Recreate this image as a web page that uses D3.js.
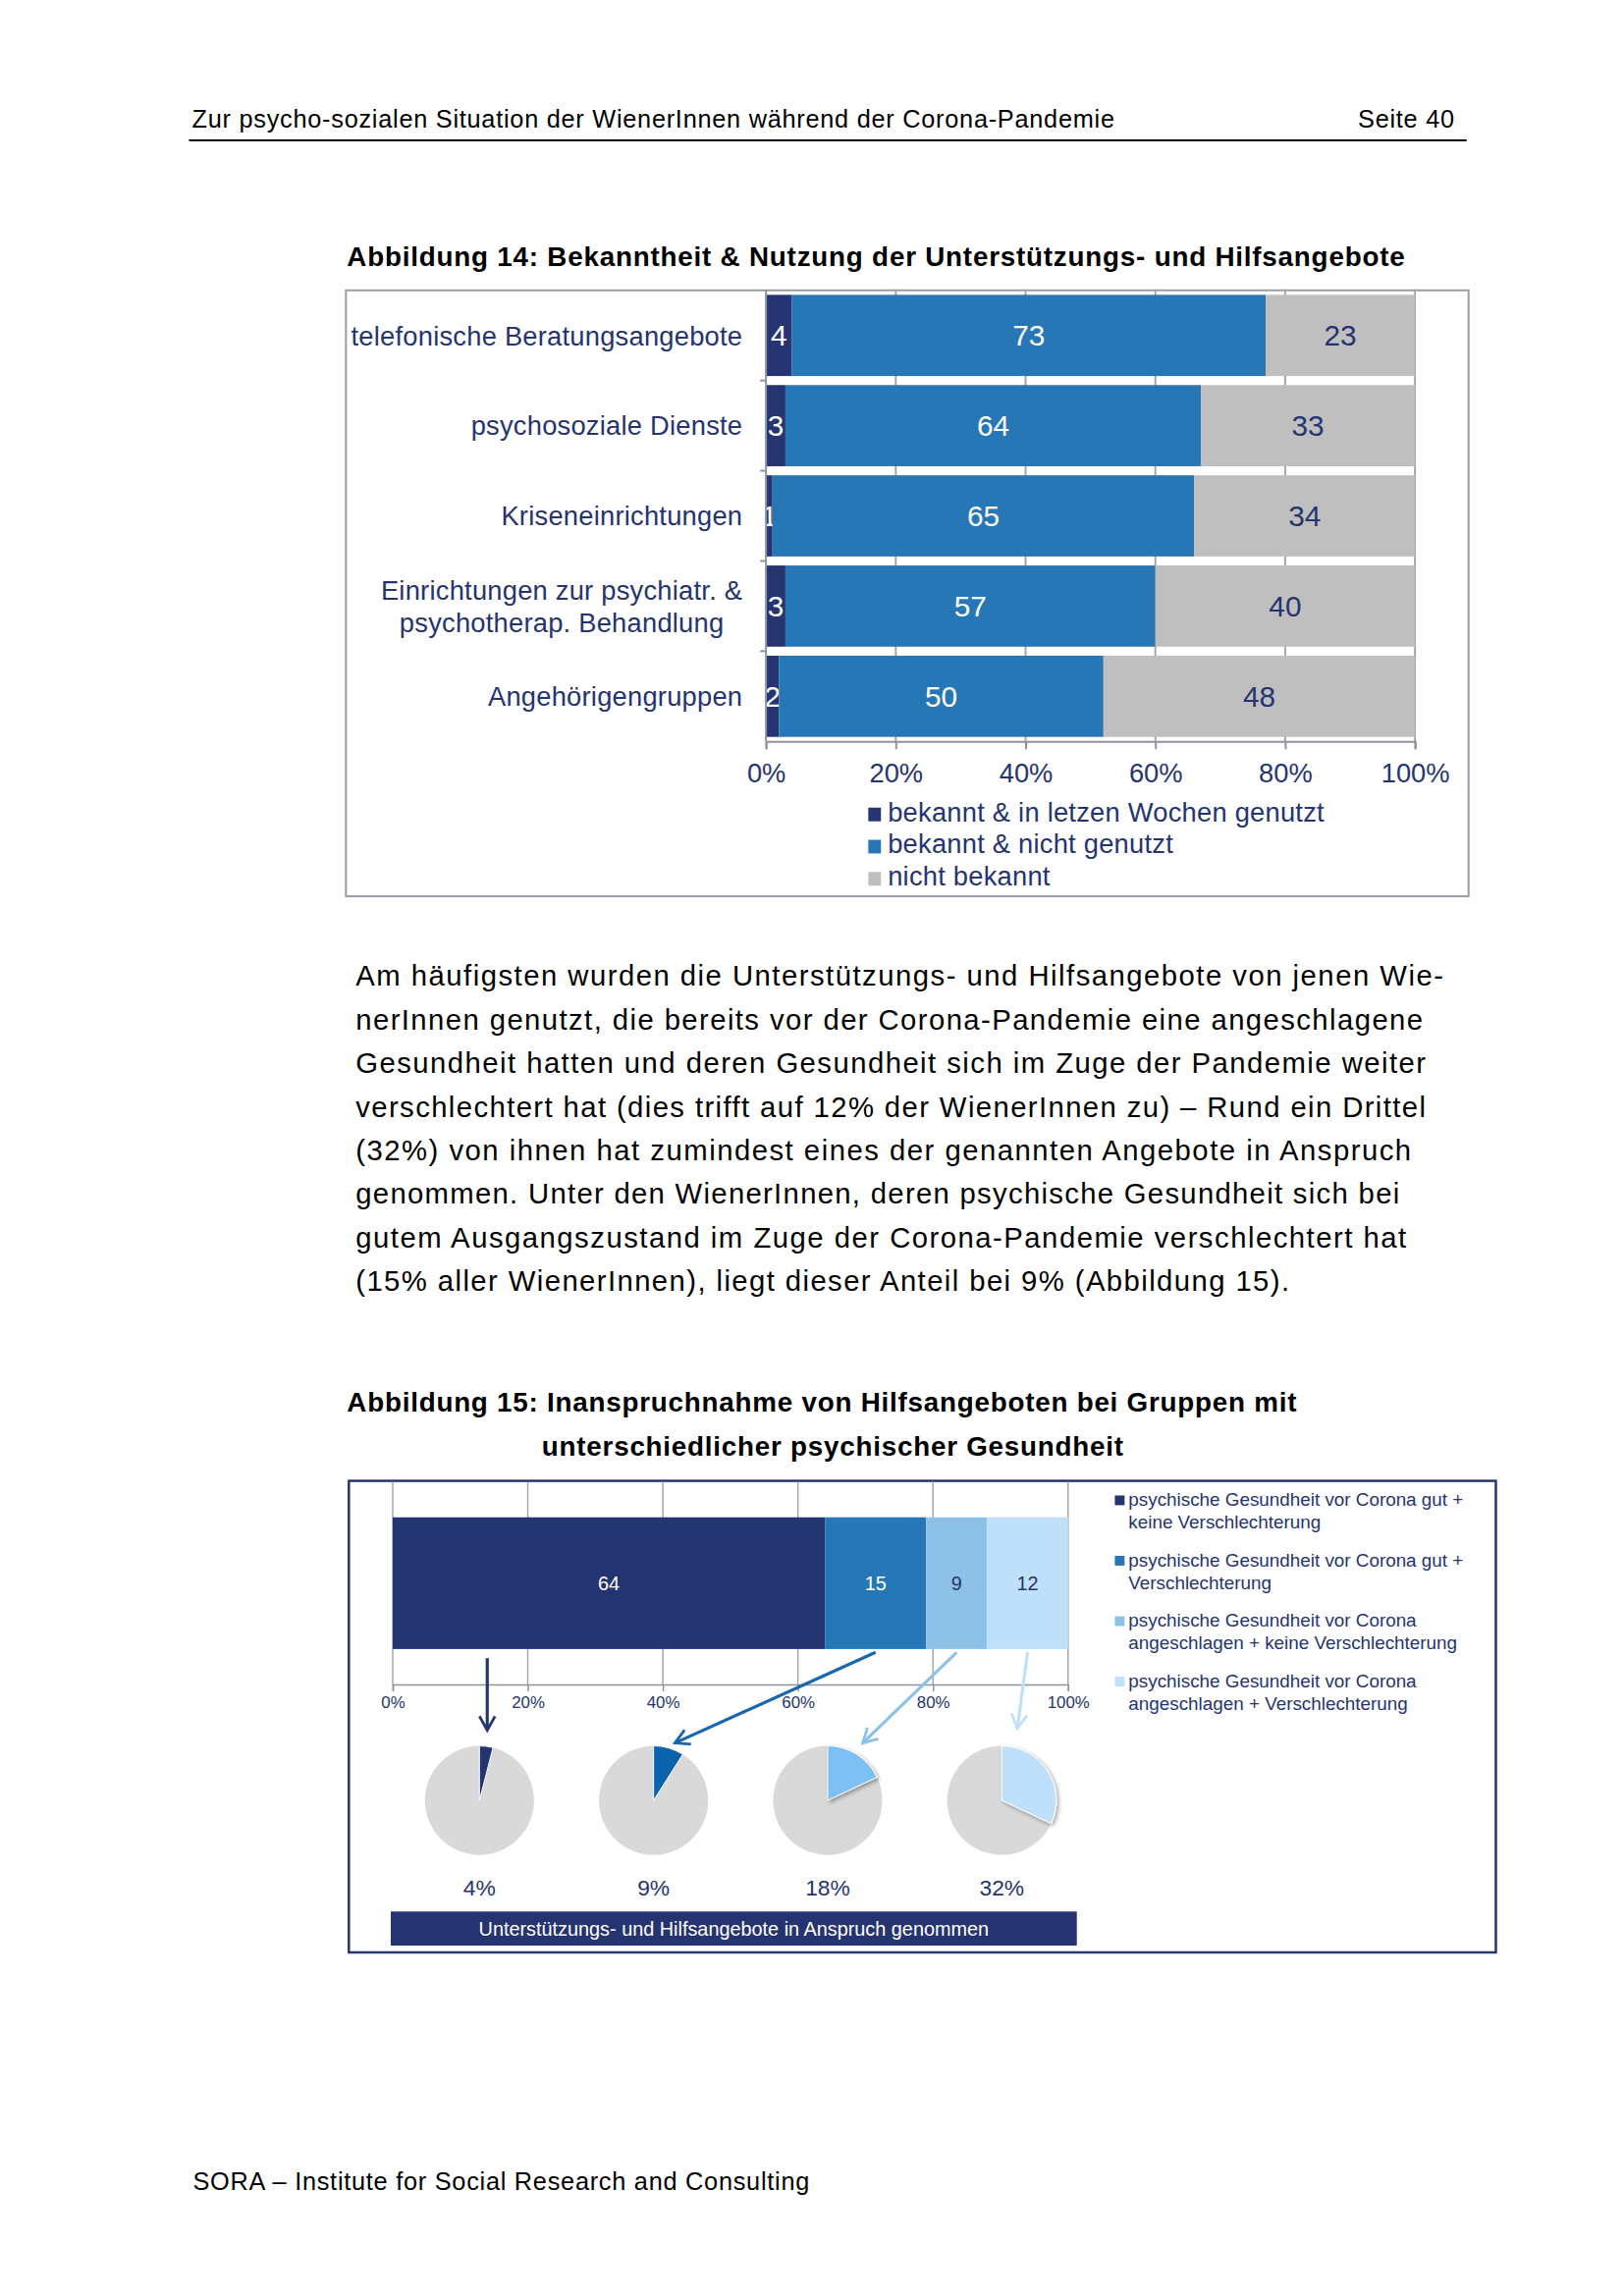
<!DOCTYPE html>
<html>
<head>
<meta charset="utf-8">
<script src="https://cdn.jsdelivr.net/npm/d3@7/dist/d3.min.js"></script>
<style>
  body { margin: 0; background: #fff; }
  svg { display: block; font-family: "Liberation Sans", Arial, sans-serif; }
</style>
</head>
<body>
<svg id="page" width="1654" height="2339"></svg>
<script>
// --- data: Abbildung 14
var categories14 = ["telefonische Beratungsangebote", "psychosoziale Dienste", "Kriseneinrichtungen",
    "Einrichtungen zur psychiatr. &|psychotherap. Behandlung", "Angehörigengruppen"];
var usedRecently = [4, 3, 1, 3, 2];
var knownNotUsed = [73, 64, 65, 57, 50];
var notKnown = [23, 33, 34, 40, 48];
var series14 = ["bekannt & in letzen Wochen genutzt", "bekannt & nicht genutzt", "nicht bekannt"];
var ticks14 = [0, 20, 40, 60, 80, 100];

// --- data: Abbildung 15
var groups15 = ["psychische Gesundheit vor Corona gut +|keine Verschlechterung",
    "psychische Gesundheit vor Corona gut +|Verschlechterung",
    "psychische Gesundheit vor Corona|angeschlagen + keine Verschlechterung",
    "psychische Gesundheit vor Corona|angeschlagen + Verschlechterung"];
var groupShares15 = [64, 15, 9, 12];
var helpUsed15 = [4, 9, 18, 32];
var ticks15 = [0, 20, 40, 60, 80, 100];

var paragraph = [
    "Am häufigsten wurden die Unterstützungs- und Hilfsangebote von jenen Wie-",
    "nerInnen genutzt, die bereits vor der Corona-Pandemie eine angeschlagene",
    "Gesundheit hatten und deren Gesundheit sich im Zuge der Pandemie weiter",
    "verschlechtert hat (dies trifft auf 12% der WienerInnen zu) – Rund ein Drittel",
    "(32%) von ihnen hat zumindest eines der genannten Angebote in Anspruch",
    "genommen. Unter den WienerInnen, deren psychische Gesundheit sich bei",
    "gutem Ausgangszustand im Zuge der Corona-Pandemie verschlechtert hat",
    "(15% aller WienerInnen), liegt dieser Anteil bei 9% (Abbildung 15)."
];
var paraWidths = [1116, 1095, 1098, 1098, 1083, 1071, 1078, 958];

var navy = "#253470";
var colors14 = ["#263571", "#2777B6", "#BFBFBF"];
var colors15 = ["#243470", "#2677B5", "#8EC1E6", "#BEE0FA"];
var pieColors = ["#243470", "#0B63AE", "#7CC0F4", "#BEE0FA"];

var root = d3.select("#page");
root.append("rect").attr("width", 1654).attr("height", 2339).attr("fill", "#fff");
var defs = root.append("defs");
// page layout measured on a slightly larger grid
var svg = root.append("g").attr("transform", "scale(0.9925)");

// page header / footer
svg.append("text").attr("x", 197).attr("y", 131).attr("font-size", 25.5).attr("letter-spacing", 0.75)
    .text("Zur psycho-sozialen Situation der WienerInnen während der Corona-Pandemie");
svg.append("text").attr("x", 1493).attr("y", 131).attr("font-size", 25.5).attr("letter-spacing", 0.75)
    .attr("text-anchor", "end").text("Seite 40");
svg.append("line").attr("x1", 194).attr("x2", 1505).attr("y1", 144).attr("y2", 144)
    .attr("stroke", "#000").attr("stroke-width", 2);
svg.append("text").attr("x", 198).attr("y", 2248).attr("font-size", 25.5).attr("letter-spacing", 0.75)
    .text("SORA – Institute for Social Research and Consulting");

// ================= Abbildung 14 =================
svg.append("text").attr("x", 356).attr("y", 273).attr("font-size", 28).attr("font-weight", "bold")
    .attr("letter-spacing", 0.8)
    .text("Abbildung 14: Bekanntheit & Nutzung der Unterstützungs- und Hilfsangebote");
svg.append("rect").attr("x", 355).attr("y", 298).attr("width", 1152).attr("height", 622)
    .attr("fill", "none").attr("stroke", "#9A9CA4").attr("stroke-width", 2);

var x14 = d3.scaleLinear().domain([0, 100]).range([786, 1452]);
var y14 = d3.scaleBand().domain(categories14).range([298, 761]).paddingInner(0.1).paddingOuter(0.05);

var table14 = categories14.map(function(c, i) {
    return { cat: c, s0: usedRecently[i], s1: knownNotUsed[i], s2: notKnown[i] };
});
var stack14 = d3.stack().keys(["s0", "s1", "s2"])(table14);

var g14 = svg.append("g");
// gridlines
g14.selectAll(".grid").data(ticks14.slice(1)).enter().append("line")
    .attr("x1", function(d) { return x14(d); }).attr("x2", function(d) { return x14(d); })
    .attr("y1", 298).attr("y2", 761).attr("stroke", "#A3A6AE").attr("stroke-width", 2);

stack14.forEach(function(layer, k) {
    g14.selectAll(".seg" + k).data(layer).enter().append("rect")
        .attr("x", function(d) { return x14(d[0]); })
        .attr("y", function(d) { return y14(d.data.cat); })
        .attr("width", function(d) { return x14(d[1]) - x14(d[0]); })
        .attr("height", y14.bandwidth())
        .attr("fill", colors14[k]);
    g14.selectAll(".lab" + k).data(layer).enter().append("text")
        .attr("x", function(d) { return (x14(d[0]) + x14(d[1])) / 2; })
        .attr("y", function(d) { return y14(d.data.cat) + y14.bandwidth() / 2; })
        .attr("dy", "0.36em").attr("text-anchor", "middle").attr("font-size", 30)
        .attr("fill", k < 2 ? "#fff" : navy)
        .text(function(d) { return d[1] - d[0]; });
});

// left axis with ticks at band boundaries
g14.append("line").attr("x1", x14(0)).attr("x2", x14(0)).attr("y1", 298).attr("y2", 761)
    .attr("stroke", "#8E929C").attr("stroke-width", 2);
categories14.slice(1).forEach(function(c) {
    var yy = y14(c) - y14.step() * y14.paddingInner() / 2;
    g14.append("line").attr("x1", x14(0) - 6).attr("x2", x14(0)).attr("y1", yy).attr("y2", yy)
        .attr("stroke", "#8E929C").attr("stroke-width", 2);
});

// bottom axis
var ax14 = g14.append("g").attr("transform", "translate(0,761)")
    .call(d3.axisBottom(x14).tickValues(ticks14).tickFormat(function(d) { return d + "%"; }).tickSize(8));
ax14.selectAll("path, line").attr("stroke", "#8E929C").attr("stroke-width", 2);
ax14.selectAll("text").attr("font-size", 27.5).attr("fill", navy).attr("font-family", null)
    .attr("y", 42).attr("dy", null);

// category labels
categories14.forEach(function(c) {
    var lines = c.split("|");
    var t = g14.append("text").attr("font-size", 27.5).attr("letter-spacing", 0.25)
        .attr("fill", navy).attr("text-anchor", "middle");
    var lh = 33;
    var y0 = y14(c) + y14.bandwidth() / 2 - (lines.length - 1) * lh / 2;
    lines.forEach(function(l, i) {
        t.append("tspan").attr("y", y0 + i * lh).attr("dy", "0.36em").text(l);
    });
    var w = 0;
    t.selectAll("tspan").each(function() { w = Math.max(w, this.getComputedTextLength()); });
    t.selectAll("tspan").attr("x", 762 - w / 2);
});

// legend
series14.forEach(function(s, i) {
    var yy = 843 + i * 33;
    g14.append("rect").attr("x", 891).attr("y", yy - 14).attr("width", 13).attr("height", 14)
        .attr("fill", colors14[i]);
    g14.append("text").attr("x", 911).attr("y", yy).attr("font-size", 27.5).attr("letter-spacing", 0.25)
        .attr("fill", navy).text(s);
});

// ================= Fließtext =================
paragraph.forEach(function(l, i) {
    svg.append("text").attr("x", 365).attr("y", 1012 + i * 44.7).attr("font-size", 29.5)
        .attr("textLength", paraWidths[i]).attr("lengthAdjust", "spacing").text(l);
});

// ================= Abbildung 15 =================
svg.append("text").attr("x", 356).attr("y", 1449).attr("font-size", 28).attr("font-weight", "bold")
    .attr("letter-spacing", 0.78)
    .text("Abbildung 15: Inanspruchnahme von Hilfsangeboten bei Gruppen mit");
svg.append("text").attr("x", 556).attr("y", 1494).attr("font-size", 28).attr("font-weight", "bold")
    .attr("letter-spacing", 0.78)
    .text("unterschiedlicher psychischer Gesundheit");
svg.append("rect").attr("x", 358).attr("y", 1520).attr("width", 1177).attr("height", 484)
    .attr("fill", "none").attr("stroke", navy).attr("stroke-width", 2.5);

var x15 = d3.scaleLinear().domain([0, 100]).range([403, 1096]);
var y15 = d3.scaleBand().domain(["gesamt"]).range([1521, 1729]).paddingInner(0.35).paddingOuter(0.175);
var g15 = svg.append("g");

g15.selectAll(".grid15").data(ticks15).enter().append("line")
    .attr("x1", function(d) { return x15(d); }).attr("x2", function(d) { return x15(d); })
    .attr("y1", 1521).attr("y2", 1729).attr("stroke", "#A6A8AE").attr("stroke-width", 1.5);

var table15 = [{ key: "gesamt" }];
groupShares15.forEach(function(v, i) { table15[0]["g" + i] = v; });
var stack15 = d3.stack().keys(groupShares15.map(function(v, i) { return "g" + i; }))(table15);

stack15.forEach(function(layer, k) {
    var d = layer[0];
    g15.append("rect").attr("x", x15(d[0])).attr("y", y15("gesamt"))
        .attr("width", x15(d[1]) - x15(d[0])).attr("height", y15.bandwidth()).attr("fill", colors15[k]);
    g15.append("text").attr("x", (x15(d[0]) + x15(d[1])) / 2)
        .attr("y", y15("gesamt") + y15.bandwidth() / 2).attr("dy", "0.36em")
        .attr("text-anchor", "middle").attr("font-size", 20)
        .attr("fill", k < 2 ? "#fff" : navy).text(d[1] - d[0]);
});

var ax15 = g15.append("g").attr("transform", "translate(0,1729)")
    .call(d3.axisBottom(x15).tickValues(ticks15).tickFormat(function(d) { return d + "%"; }).tickSize(7));
ax15.selectAll("path, line").attr("stroke", "#8E929C").attr("stroke-width", 1.5);
ax15.selectAll("text").attr("font-size", 17).attr("fill", navy).attr("font-family", null)
    .attr("y", 24).attr("dy", null);

// legend right
groups15.forEach(function(g, i) {
    var yy = 1546 + i * 62;
    g15.append("rect").attr("x", 1144).attr("y", yy - 11).attr("width", 10).attr("height", 10)
        .attr("fill", colors15[i]);
    var t = g15.append("text").attr("font-size", 19).attr("fill", navy);
    g.split("|").forEach(function(l, j) {
        t.append("tspan").attr("x", 1158).attr("y", yy + j * 23).text(l);
    });
});

// pies
var px = d3.scalePoint().domain(d3.range(helpUsed15.length)).range([492, 1028]);
var pieR = 56, pieY = 1848;
defs.append("filter").attr("id", "shadow").attr("x", "-30%").attr("y", "-30%")
    .attr("width", "160%").attr("height", "160%")
    .append("feDropShadow").attr("dx", 2).attr("dy", 2).attr("stdDeviation", 2)
    .attr("flood-color", "#000").attr("flood-opacity", 0.35);

var pie = d3.pie().sort(null).value(function(d) { return d; });
var arc = d3.arc().innerRadius(0).outerRadius(pieR);

helpUsed15.forEach(function(v, i) {
    var gp = g15.append("g").attr("transform", "translate(" + px(i) + "," + pieY + ")");
    var arcs = pie([v, 100 - v]);
    gp.append("path").attr("d", arc(arcs[1])).attr("fill", "#D9D9D9");
    gp.append("path").attr("d", arc(arcs[0])).attr("fill", pieColors[i])
        .attr("stroke", "#fff").attr("stroke-width", 1)
        .attr("filter", i >= 2 ? "url(#shadow)" : null);
    g15.append("text").attr("x", px(i)).attr("y", 1946).attr("text-anchor", "middle")
        .attr("font-size", 23).attr("fill", navy).text(v + "%");
});

// arrows from bar segments to pies
var arrowStroke = ["#243470", "#1867AE", "#8EC1E6", "#BEE0FA"];
arrowStroke.forEach(function(c, i) {
    defs.append("marker").attr("id", "arr" + i).attr("viewBox", "0 0 12 12")
        .attr("refX", 10).attr("refY", 6).attr("markerWidth", 6).attr("markerHeight", 6)
        .attr("orient", "auto").attr("markerUnits", "strokeWidth")
        .append("path").attr("d", "M 1 1 L 10 6 L 1 11").attr("fill", "none")
        .attr("stroke", c).attr("stroke-width", 1.8);
});
var arrowEndOffset = [8, 22, 36, 16];
stack15.forEach(function(layer, k) {
    var d = layer[0];
    var sx = k === 0 ? px(k) + arrowEndOffset[k] : (x15(d[0]) + x15(d[1])) / 2;
    var ex = px(k) + arrowEndOffset[k];
    g15.append("line").attr("x1", sx).attr("y1", k === 0 ? 1702 : 1696)
        .attr("x2", ex).attr("y2", k === 0 ? 1776 : (k === 3 ? 1774 : 1789))
        .attr("stroke", arrowStroke[k]).attr("stroke-width", 3.2)
        .attr("marker-end", "url(#arr" + k + ")");
});

// banner
g15.append("rect").attr("x", 401).attr("y", 1962).attr("width", 704).attr("height", 35).attr("fill", navy);
g15.append("text").attr("x", 753).attr("y", 1987).attr("text-anchor", "middle").attr("font-size", 20)
    .attr("fill", "#fff").text("Unterstützungs- und Hilfsangebote in Anspruch genommen");
</script>
</body>
</html>
